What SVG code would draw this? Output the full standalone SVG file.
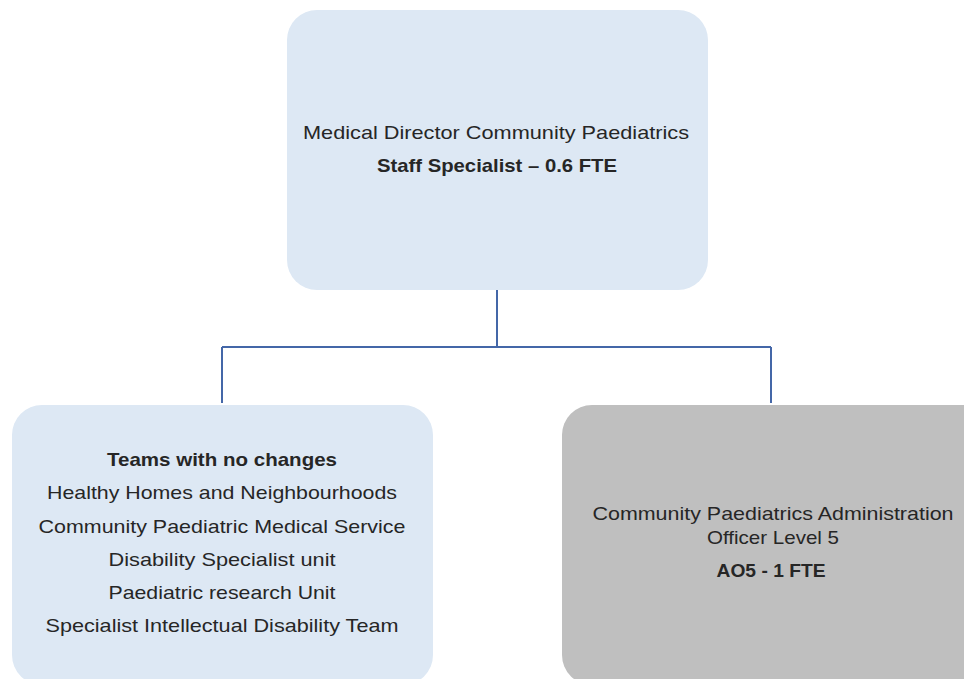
<svg xmlns="http://www.w3.org/2000/svg" width="964" height="679" viewBox="0 0 964 679">
<style>
.t{font-family:"Liberation Sans",Arial,sans-serif;font-size:19px;fill:#262626;text-anchor:middle}
.b{font-weight:bold}
.blue{fill:#dde8f4}
.grey{fill:#bfbfbf}
.conn{stroke:#4467a8;stroke-width:2;fill:none}
</style>
<rect width="964" height="679" fill="#ffffff"/>
<g id="connectors">
<path class="conn" d="M497 290 V347 M222 347 H771 M222 347 V403 M771 347 V403"/>
</g>
<g id="director">
<rect class="blue" x="287" y="10" width="421" height="280" rx="30"/>
<text class="t" x="496" y="139" textLength="386" lengthAdjust="spacingAndGlyphs">Medical Director Community Paediatrics</text>
<text class="t b" x="497" y="172" textLength="240" lengthAdjust="spacingAndGlyphs">Staff Specialist – 0.6 FTE</text>
</g>
<g id="teams">
<rect class="blue" x="12" y="405" width="421" height="280" rx="30"/>
<text class="t b" x="222" y="466" textLength="230" lengthAdjust="spacingAndGlyphs">Teams with no changes</text>
<text class="t" x="222" y="499" textLength="350" lengthAdjust="spacingAndGlyphs">Healthy Homes and Neighbourhoods</text>
<text class="t" x="222" y="533" textLength="367" lengthAdjust="spacingAndGlyphs">Community Paediatric Medical Service</text>
<text class="t" x="222" y="566" textLength="227" lengthAdjust="spacingAndGlyphs">Disability Specialist unit</text>
<text class="t" x="222" y="599" textLength="227" lengthAdjust="spacingAndGlyphs">Paediatric research Unit</text>
<text class="t" x="222" y="632" textLength="353" lengthAdjust="spacingAndGlyphs">Specialist Intellectual Disability Team</text>
</g>
<g id="admin">
<rect class="grey" x="562" y="405" width="440" height="280" rx="30"/>
<text class="t" x="773" y="520" textLength="361" lengthAdjust="spacingAndGlyphs">Community Paediatrics Administration</text>
<text class="t" x="773" y="544" textLength="132" lengthAdjust="spacingAndGlyphs">Officer Level 5</text>
<text class="t b" x="771" y="577" textLength="109" lengthAdjust="spacingAndGlyphs">AO5 - 1 FTE</text>
</g>
</svg>
